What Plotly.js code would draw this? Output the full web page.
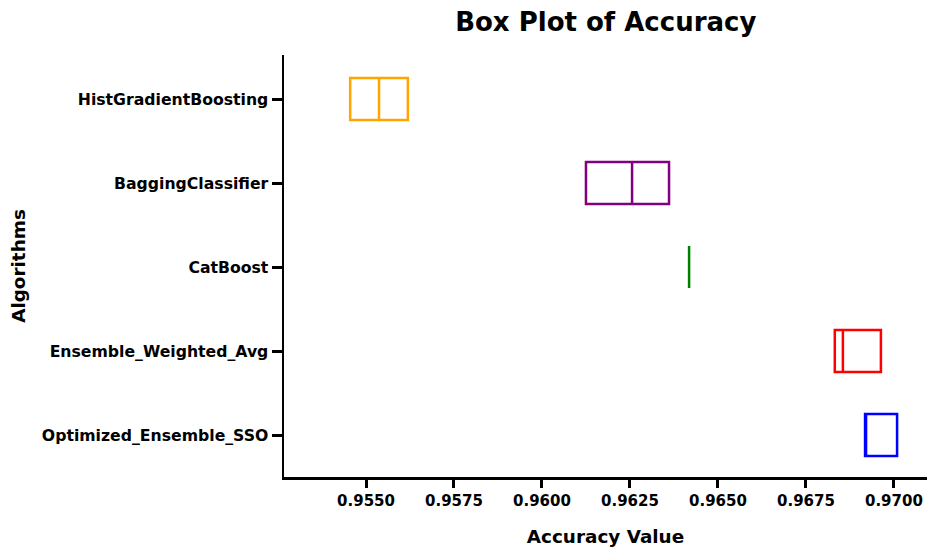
<!DOCTYPE html>
<html>
<head>
<meta charset="utf-8">
<script src="https://cdn.plot.ly/plotly-3.0.1.min.js"></script>
<style>
  html, body { margin: 0; padding: 0; background: #fff; }
  #chart { width: 927px; height: 547px; }
</style>
</head>
<body>
<div id="chart"></div>
<script>
// Algorithms, listed top to bottom
const algorithms = [
  "HistGradientBoosting",
  "BaggingClassifier",
  "CatBoost",
  "Ensemble_Weighted_Avg",
  "Optimized_Ensemble_SSO"
];

// Accuracy quartiles per algorithm (whiskers coincide with the box edges)
const q1Values     = [0.95455, 0.96125, 0.96418, 0.96832, 0.96918];
const medianValues = [0.95537, 0.96256, 0.96418, 0.96855, 0.96918];
const q3Values     = [0.95619, 0.96361, 0.96418, 0.96963, 0.97009];
const minValues    = [0.95455, 0.96125, 0.96418, 0.96832, 0.96918];
const maxValues    = [0.95619, 0.96361, 0.96418, 0.96963, 0.97009];

const boxColors = ["#FFA500", "#800080", "#008000", "#FF0000", "#0000FF"];

const xTickValues = [0.9550, 0.9575, 0.9600, 0.9625, 0.9650, 0.9675, 0.9700];

const traces = algorithms.map((name, i) => ({
  type: "box",
  orientation: "h",
  name: name,
  y: [name],
  q1: [q1Values[i]],
  median: [medianValues[i]],
  q3: [q3Values[i]],
  lowerfence: [minValues[i]],
  upperfence: [maxValues[i]],
  width: 0.5,
  whiskerwidth: 0,
  boxpoints: false,
  fillcolor: "rgba(0,0,0,0)",
  line: { color: boxColors[i], width: 2.5 },
  showlegend: false
}));

const font = "DejaVu Sans, sans-serif";

const layout = {
  width: 927,
  height: 547,
  paper_bgcolor: "#fff",
  plot_bgcolor: "#fff",
  margin: { l: 284, r: 0, t: 55, b: 70 },
  font: { family: font, color: "#000" },
  title: {
    text: "<b>Box Plot of Accuracy</b>",
    font: { family: font, size: 26, color: "#000" },
    x: 0.6535, xanchor: "center",
    y: 0.96, yanchor: "middle"
  },
  xaxis: {
    range: [0.95267, 0.97094],
    tickvals: xTickValues,
    ticktext: xTickValues.map(v => "<b>" + v.toFixed(4) + "</b>"),
    tickfont: { family: font, size: 15, color: "#000" },
    ticks: "outside", ticklen: 8, tickwidth: 3, tickcolor: "#000",
    showline: true, linecolor: "#000", linewidth: 2.5,
    showgrid: false, zeroline: false,
    title: {
      text: "<b>Accuracy Value</b>",
      font: { family: font, size: 18.4, color: "#000" },
      standoff: 22
    }
  },
  yaxis: {
    type: "category",
    categoryorder: "array",
    categoryarray: algorithms,
    range: [4.5, -0.524],
    tickvals: algorithms,
    ticktext: algorithms.map(a => "<b>" + a + "</b>"),
    tickfont: { family: font, size: 15.7, color: "#000" },
    ticks: "outside", ticklen: 10, tickwidth: 3, tickcolor: "#000",
    showline: true, linecolor: "#000", linewidth: 2.5,
    showgrid: false, zeroline: false,
    title: {
      text: "<b>Algorithms</b>",
      font: { family: font, size: 18.4, color: "#000" },
      standoff: 12
    }
  }
};

Plotly.newPlot("chart", traces, layout, { displayModeBar: false, staticPlot: true });
</script>
</body>
</html>
